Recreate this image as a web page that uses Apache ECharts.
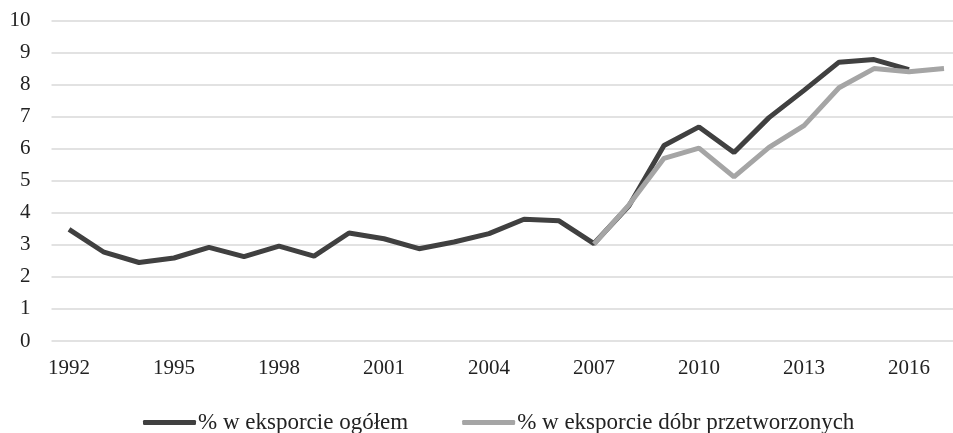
<!DOCTYPE html>
<html>
<head>
<meta charset="utf-8">
<script src="https://cdn.jsdelivr.net/npm/echarts@6/dist/echarts.min.js"></script>
<style>html,body{margin:0;padding:0;background:#fff}#c{width:953px;height:433px}</style>
</head>
<body>
<div id="c"></div>
<script>
const years = ['1992','1993','1994','1995','1996','1997','1998','1999','2000','2001','2002','2003','2004','2005','2006','2007','2008','2009','2010','2011','2012','2013','2014','2015','2016','2017'];
const ogolem = [3.48,2.77,2.45,2.59,2.92,2.63,2.96,2.65,3.37,3.19,2.88,3.09,3.35,3.8,3.75,3.04,4.22,6.1,6.68,5.88,6.97,7.82,8.7,8.78,8.47,null];
const przetworzone = [null,null,null,null,null,null,null,null,null,null,null,null,null,null,null,3.02,4.25,5.7,6.02,5.12,6.04,6.72,7.9,8.5,8.4,8.5];
const seriesNames = ['% w eksporcie ogółem','% w eksporcie dóbr przetworzonych'];

const font = '"Liberation Serif", "DejaVu Serif", serif';
const chart = echarts.init(document.getElementById('c'), null, {renderer:'canvas'});
chart.setOption({
  animation:false,
  backgroundColor:'#fff',
  textStyle:{fontFamily:font},
  grid:{left:51.5, top:20.5, width:910, height:320.5, containLabel:false, outerBoundsMode:'none'},
  legend:{
    top:406, left:138, itemWidth:53, itemHeight:5, itemGap:54,
    icon:'roundRect',
    textStyle:{fontFamily:font, fontSize:23, color:'#222', padding:[0,0,0,-3]},
    data:seriesNames
  },
  xAxis:{
    type:'category', data:years, boundaryGap:true,
    axisLine:{show:false}, axisTick:{show:false},
    axisLabel:{interval:2, fontFamily:font, fontSize:21, color:'#222', margin:17}
  },
  yAxis:{
    type:'value', min:0, max:10, interval:1,
    axisLine:{show:false}, axisTick:{show:false},
    axisLabel:{fontFamily:font, fontSize:21, color:'#222', margin:21},
    splitLine:{lineStyle:{color:'#d9d9d9', width:1.5}}
  },
  series:[
    {name:seriesNames[0], type:'line', data:ogolem, symbol:'none', connectNulls:false,
     lineStyle:{color:'#404040', width:5}, itemStyle:{color:'#404040'}, z:2},
    {name:seriesNames[1], type:'line', data:przetworzone, symbol:'none',
     lineStyle:{color:'#a5a5a5', width:5}, itemStyle:{color:'#a5a5a5'}, z:3}
  ]
});
</script>
</body>
</html>
